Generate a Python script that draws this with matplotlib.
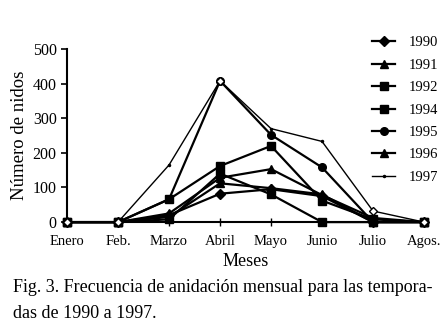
import matplotlib.pyplot as plt

plt.rcParams['font.family'] = ['Liberation Serif', 'DejaVu Serif']

# Months and nest counts per season
meses = ["Enero", "Feb.", "Marzo", "Abril", "Mayo", "Junio", "Julio", "Agos."]
n1990 = [0, 0, 20, 82, 95, 75, 0, 0]
n1991 = [0, 0, 15, 112, 98, 80, 0, 0]
n1992 = [0, 0, 8, 140, 80, 0, 0, 0]
n1994 = [0, 0, 66, 162, 220, 62, 8, 0]
n1995 = [0, 0, 66, 408, 252, 158, 0, 0]
n1996 = [0, 0, 25, 128, 153, 78, 12, 0]
n1997 = [0, 0, 165, 408, 270, 233, 32, 0]

series = [
    ("1990", n1990, 'D'),
    ("1991", n1991, '^'),
    ("1992", n1992, 's'),
    ("1994", n1994, 's'),
    ("1995", n1995, 'o'),
    ("1996", n1996, '^'),
]

fig = plt.figure(figsize=(4.44, 3.31), dpi=100)
ax = fig.add_axes([0.151, 0.329, 0.804, 0.523])

x = list(range(len(meses)))
handles = []
for label, vals, mk in series:
    h, = ax.plot(x, vals, color='black', lw=1.6, marker=mk, ms=5.5, label=label,
                 clip_on=False, zorder=3)
    handles.append(h)

h, = ax.plot(x, n1997, color='black', lw=1.0, marker='.', ms=3, label="1997",
             clip_on=False, zorder=4)
handles.append(h)
# open diamonds drawn on the 1997 line
idx = [0, 1, 3, 6, 7]
ax.plot([x[i] for i in idx], [n1997[i] for i in idx], ls='none', marker='D',
        ms=4, mfc='white', mec='black', mew=1.0, clip_on=False, zorder=5)

ax.set_xlim(0, 7)
ax.set_ylim(0, 500)
ax.set_xticks(x)
ax.set_xticklabels(meses, fontsize=10.5)
ax.set_yticks([0, 100, 200, 300, 400, 500])
ax.tick_params(axis='y', labelsize=11.5, direction='out', length=4, width=1.2)
ax.tick_params(axis='x', direction='inout', length=6, width=1, pad=6)
for s in ['top', 'right']:
    ax.spines[s].set_visible(False)
ax.spines['left'].set_linewidth(1.5)
ax.spines['bottom'].set_linewidth(1.5)

ax.set_xlabel("Meses", fontsize=13, labelpad=4)
ax.set_ylabel("Número de nidos", fontsize=13.5, labelpad=3)

fig.legend(handles=handles, loc='upper left', bbox_to_anchor=(0.825, 0.908),
           frameon=False, fontsize=10.5, handlelength=1.6, handletextpad=0.9,
           labelspacing=0.63, borderaxespad=0)

fig.text(0.03, 0.118, "Fig. 3. Frecuencia de anidación mensual para las tempora-",
         fontsize=13, ha='left', va='baseline')
fig.text(0.03, 0.039, "das de 1990 a 1997.", fontsize=13, ha='left', va='baseline')

fig.savefig("out.png", dpi=100)
